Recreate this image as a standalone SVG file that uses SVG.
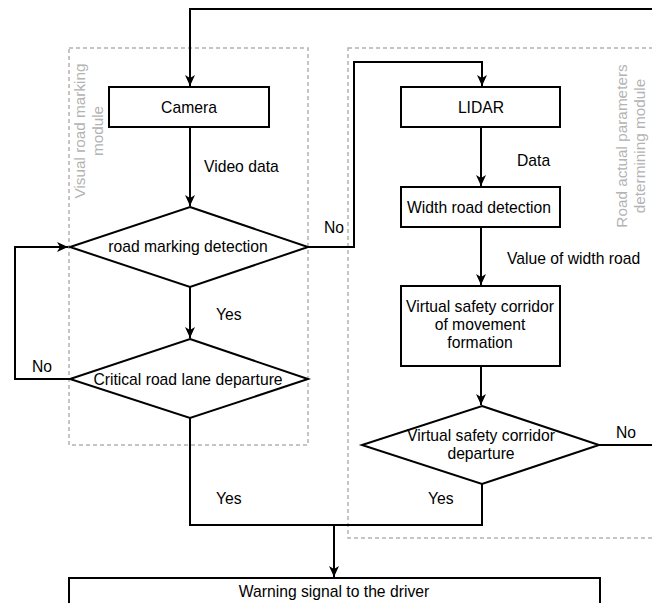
<svg xmlns="http://www.w3.org/2000/svg" width="652" height="603" viewBox="0 0 652 603">
<style>
.box{fill:#fff;stroke:#000;stroke-width:2}
.ln{fill:none;stroke:#000;stroke-width:2}
.mod{fill:none;stroke:#b3b3b3;stroke-width:1.5;stroke-dasharray:4 3}
text{font-family:"Liberation Sans",Arial,sans-serif;font-size:15.7px;fill:#000}
.c{text-anchor:middle}
.g{fill:#b3b3b3;text-anchor:middle;font-size:15.3px}
</style>
<defs>
<marker id="ar" markerUnits="userSpaceOnUse" markerWidth="12" markerHeight="12" viewBox="0 0 12 12" refX="11" refY="6" orient="auto">
<path d="M0,1 L11,6 L0,11 L3,6 z" fill="#000"/>
</marker>
</defs>
<rect width="652" height="603" fill="#fff"/>
<g id="module-visual">
<rect class="mod" x="69" y="48" width="239" height="397"/>
<text class="g" transform="translate(85,131) rotate(-90)">Visual road marking</text>
<text class="g" transform="translate(103,131) rotate(-90)">module</text>
</g>
<g id="module-road">
<rect class="mod" x="348" y="48" width="320" height="490"/>
<text class="g" transform="translate(627,146) rotate(-90)">Road actual parameters</text>
<text class="g" transform="translate(645,146) rotate(-90)">determining module</text>
</g>
<g id="connectors">
<path class="ln" d="M652,9 H190 V86" marker-end="url(#ar)"/>
<path class="ln" d="M190,127 V206" marker-end="url(#ar)"/>
<path class="ln" d="M190,287 V338" marker-end="url(#ar)"/>
<path class="ln" d="M70,379 H15 V247 H68" marker-end="url(#ar)"/>
<path class="ln" d="M308,247 H354 V62 H482 V86" marker-end="url(#ar)"/>
<path class="ln" d="M481,127 V186" marker-end="url(#ar)"/>
<path class="ln" d="M481,227 V285" marker-end="url(#ar)"/>
<path class="ln" d="M481,366 V405" marker-end="url(#ar)"/>
<path class="ln" d="M599,445 H652"/>
<path class="ln" d="M190,418 V525 H482 V484"/>
<path class="ln" d="M334,525 V577" marker-end="url(#ar)"/>
<text x="204" y="172">Video data</text>
<text x="216" y="320">Yes</text>
<text x="32" y="372">No</text>
<text x="216" y="504">Yes</text>
<text x="324" y="233">No</text>
<text x="517" y="166">Data</text>
<text x="507" y="264">Value of width road</text>
<text x="616" y="438">No</text>
<text x="428" y="504">Yes</text>
</g>
<g id="camera">
<rect class="box" x="109" y="87" width="160" height="40"/>
<text class="c" x="189" y="113">Camera</text>
</g>
<g id="road-marking-detection">
<path class="box" d="M190,207 L308,247 L190,287 L70,247 Z"/>
<text class="c" x="188" y="252">road marking detection</text>
</g>
<g id="critical-departure">
<path class="box" d="M190,339 L308,379 L190,418 L70,379 Z"/>
<text class="c" x="188" y="385">Critical road lane departure</text>
</g>
<g id="lidar">
<rect class="box" x="401" y="87" width="159" height="40"/>
<text class="c" x="481" y="113">LIDAR</text>
</g>
<g id="width-detection">
<rect class="box" x="401" y="187" width="159" height="40"/>
<text class="c" x="479" y="213">Width road detection</text>
</g>
<g id="corridor-formation">
<rect class="box" x="401" y="286" width="159" height="80"/>
<text class="c" x="480" y="312">Virtual safety corridor</text>
<text class="c" x="480" y="330">of movement</text>
<text class="c" x="480" y="348">formation</text>
</g>
<g id="corridor-departure">
<path class="box" d="M482,406 L599,445 L482,484 L362,445 Z"/>
<text class="c" x="481" y="441">Virtual safety corridor</text>
<text class="c" x="481" y="459">departure</text>
</g>
<g id="warning">
<rect class="box" x="69" y="578" width="531" height="40"/>
<text class="c" x="334" y="597">Warning signal to the driver</text>
</g>
</svg>
